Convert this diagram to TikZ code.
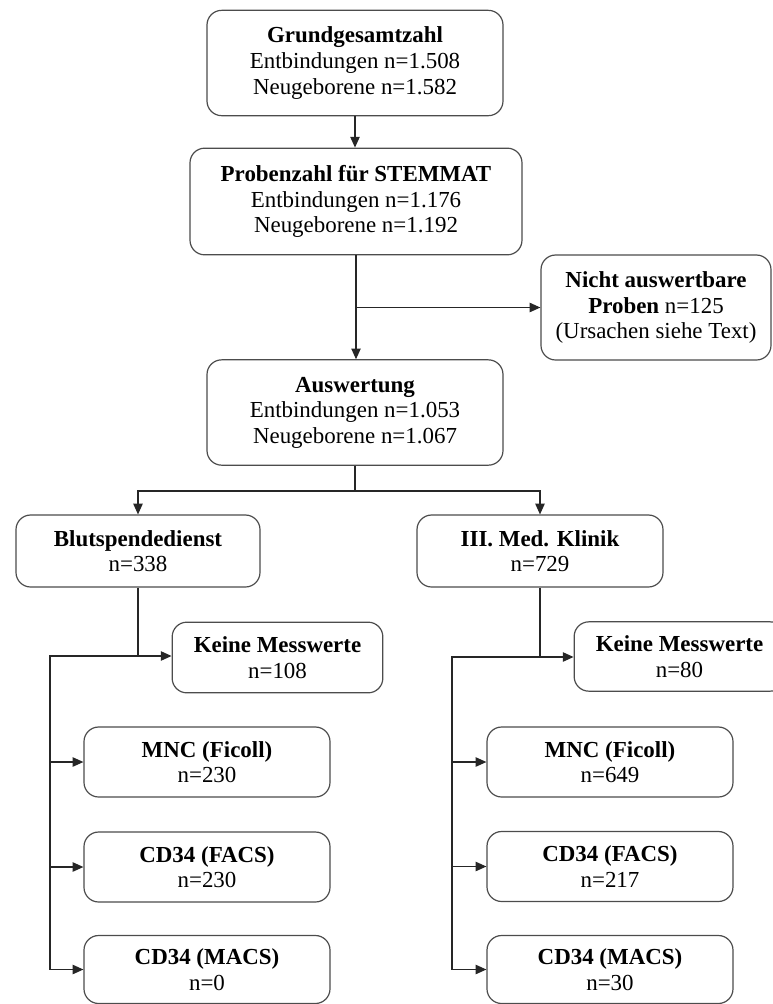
\documentclass[tikz,border=0pt]{standalone}
\usepackage{fontspec}
\setmainfont{Liberation Serif}
\usetikzlibrary{arrows.meta}
\begin{document}
\begin{tikzpicture}[x=0.75pt,y=-0.75pt,
  box/.style={draw=black!70, line width=0.9pt, rounded corners=11pt, align=center, inner sep=0pt,
    font=\fontsize{17.2}{19.2}\selectfont, text=black},
  big/.style={box, minimum width=222pt, minimum height=79pt},
  small/.style={box, minimum width=184.5pt, minimum height=52.5pt},
  conn/.style={draw=black!85, line width=0.9pt},
  arr/.style={conn, -{Triangle[length=8pt,width=7pt]}}]
\useasboundingbox (0,0) rectangle (772,1004);

\node[big] (g1) at (355,63) {\textbf{Grundgesamtzahl}\\Entbindungen n=1.508\\Neugeborene n=1.582};
\node[big, minimum width=249pt, minimum height=80pt] (g2) at (356,201.5) {\textbf{Probenzahl für STEMMAT}\\Entbindungen n=1.176\\Neugeborene n=1.192};
\node[box, minimum width=172.5pt, minimum height=78.75pt] (nicht) at (656,307.5) {\textbf{Nicht auswertbare}\\\textbf{Proben} n=125\\(Ursachen siehe Text)};
\node[big] (ausw) at (355,412.5) {\textbf{Auswertung}\\Entbindungen n=1.053\\Neugeborene n=1.067};

\node[small, minimum width=183pt, minimum height=54pt] (blut) at (138,551) {\textbf{Blutspendedienst}\\n=338};
\node[small, minimum width=184.5pt, minimum height=54pt] (klinik) at (540,551) {\textbf{III. Med. Klinik}\\n=729};

\node[small, minimum width=158pt, minimum height=53pt] (keineL) at (277.5,657.5) {\textbf{Keine Messwerte}\\n=108};
\node[small, minimum width=158pt, minimum height=52pt] (keineR) at (679.5,656.5) {\textbf{Keine Messwerte}\\n=80};

\node[small] (mncL) at (207,762) {\textbf{MNC (Ficoll)}\\n=230};
\node[small] (facsL) at (207,867) {\textbf{CD34 (FACS)}\\n=230};
\node[small, minimum height=51pt] (macsL) at (207,969.5) {\textbf{CD34 (MACS)}\\n=0};
\node[small] (mncR) at (610,762) {\textbf{MNC (Ficoll)}\\n=649};
\node[small] (facsR) at (610,866.5) {\textbf{CD34 (FACS)}\\n=217};
\node[small, minimum height=51pt] (macsR) at (610,969.5) {\textbf{CD34 (MACS)}\\n=30};

% top chain
\draw[arr] (g1.south) -- (g1.south |- g2.north);
\coordinate (j1) at (g2.south |- nicht.west);
\draw[arr] (g2.south) -- (g2.south |- ausw.north);
\draw[arr] (j1) -- (nicht.west);

% split
\coordinate (j2) at (355,491);
\draw[conn] (ausw.south) -- (j2);
\draw[arr] (j2) -| (blut.north);
\draw[arr] (j2) -| (klinik.north);

% left branch
\coordinate (jL) at (138,656);
\coordinate (cL) at (50,656);
\draw[conn] (blut.south) -- (jL);
\draw[arr] (jL) -- (keineL.west |- jL);
\draw[conn] (jL) -- (cL) -- (cL |- macsL.west);
\draw[arr] (cL |- mncL.west) -- (mncL.west);
\draw[arr] (cL |- facsL.west) -- (facsL.west);
\draw[arr] (cL |- macsL.west) -- (macsL.west);

% right branch
\coordinate (jR) at (540,657);
\coordinate (cR) at (452,657);
\draw[conn] (klinik.south) -- (jR);
\draw[arr] (jR) -- (keineR.west |- jR);
\draw[conn] (jR) -- (cR) -- (cR |- macsR.west);
\draw[arr] (cR |- mncR.west) -- (mncR.west);
\draw[arr] (cR |- facsR.west) -- (facsR.west);
\draw[arr] (cR |- macsR.west) -- (macsR.west);
\end{tikzpicture}
\end{document}
